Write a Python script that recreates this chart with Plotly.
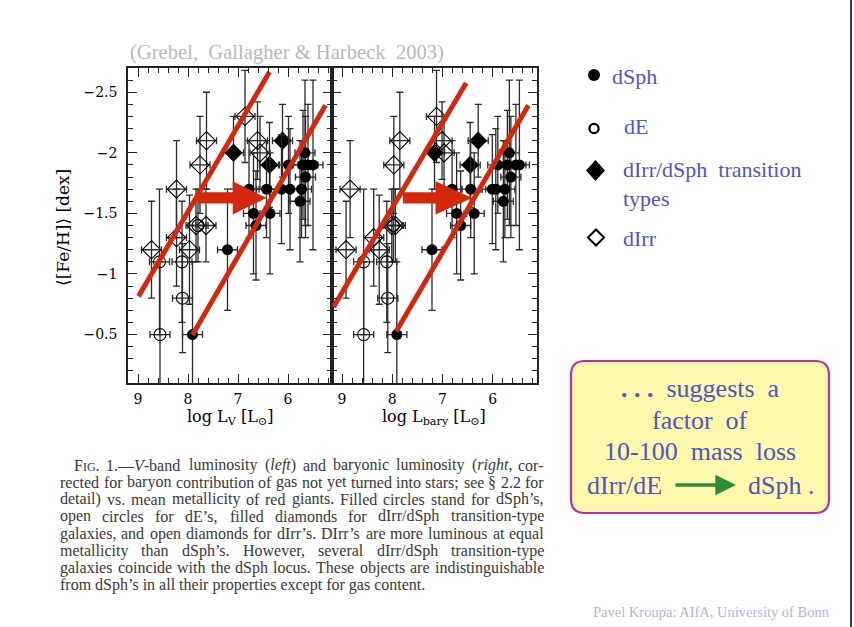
import re
import plotly.graph_objects as go

W, H = 854, 627
def fx(p): return p / W
def fy(p): return 1 - p / H

# ---------------- data ----------------
# dSph (filled circles)
dsph_xL = [7.91, 7.21, 6.69, 6.36, 6.64, 6.78, 6.43, 6.13, 5.96, 5.73, 5.76, 5.99, 5.70, 5.60, 5.50, 5.66, 5.65]
dsph_xR = [7.91, 7.21, 6.72, 6.37, 6.64, 6.81, 6.44, 6.01, 5.94, 5.76, 5.79, 5.90, 5.71, 5.54, 5.47, 5.67, 5.64]
dsph_y  = [-0.5, -1.2, -1.5, -1.5, -1.4, -1.7, -1.7, -1.7, -1.7, -1.7, -1.6, -1.9, -1.9, -1.9, -1.9, -2.0, -1.8]
dsph_ey = [0.6, 0.5, 0.5, 0.5, 0.45, 0.4, 0.4, 0.45, 0.5, 0.4, 0.5, 0.4, 0.45, 0.5, 0.7, 0.6, 0.5]
dsph_ex = [0.2, 0.2, 0.2, 0.2, 0.2, 0.2, 0.2, 0.2, 0.2, 0.2, 0.2, 0.2, 0.2, 0.2, 0.2, 0.2, 0.2]

# dIrr/dSph transition types (filled diamonds)
tr_xL = [7.09, 6.11, 6.37]
tr_xR = [7.16, 6.29, 6.45]
tr_y  = [-2.0, -2.1, -1.9]
tr_ey = [0.3, 0.3, 0.35]
tr_ex = [0.2, 0.2, 0.2]

# dIrr (open diamonds)
dirr_xL = [6.86, 7.63, 6.61, 6.56, 7.76, 8.23, 8.73, 7.97, 8.23, 7.84, 7.64]
dirr_xR = [7.12, 7.85, 7.01, 6.97, 7.97, 8.84, 8.92, 8.26, 8.37, 8.01, 7.94]
dirr_y  = [-2.3, -2.1, -2.1, -2.0, -1.9, -1.7, -1.2, -1.2, -1.3, -1.4, -1.4]
dirr_ey = [0.38, 0.4, 0.32, 0.3, 0.4, 0.4, 0.4, 0.45, 0.4, 0.3, 0.3]
dirr_ex = [0.2, 0.2, 0.2, 0.2, 0.2, 0.2, 0.2, 0.2, 0.2, 0.2, 0.2]

# dE (open circles)
de_xL = [8.57, 8.12, 8.11, 8.56, 7.80]
de_xR = [8.57, 8.11, 8.09, 8.57, 7.98]
de_y  = [-1.1, -1.1, -0.8, -0.5, -1.4]
de_ey = [0.6, 0.5, 0.45, 0.6, 0.3]
de_ex = [0.2, 0.2, 0.2, 0.2, 0.2]

# red lines drawn on the slide (data coordinates)
redL1_x, redL1_y = [8.99, 6.37], [-0.815, -2.667]
redL2_x, redL2_y = [7.91, 5.25], [-0.497, -2.393]
redR1_x, redR1_y = [9.17, 6.53], [-0.728, -2.577]
redR2_x, redR2_y = [7.92, 5.29], [-0.527, -2.393]

# red block arrows: start, head base, tip (x); centre y
arrow_x = [[7.80, 7.106, 6.43], [7.79, 7.14, 6.41]]
arrow_yc = -1.628

x_ticks = [9, 8, 7, 6]
y_ticks = [-2.5, -2, -1.5, -1, -0.5]

RED = "#d4280c"
BLUE = "#4f55c4"
ERRC = "#2a2a2a"

fig = go.Figure()

def add_panel(xa, ya, dsx, trx, dix, dex):
    common = dict(xaxis=xa, yaxis=ya, mode="markers", showlegend=False, hoverinfo="skip")
    def ebars(ex, ey):
        return dict(error_x=dict(type="data", array=ex, color=ERRC, thickness=1.3, width=3.5),
                    error_y=dict(type="data", array=ey, color=ERRC, thickness=1.3, width=3.5))
    fig.add_trace(go.Scatter(x=dix, y=dirr_y, marker=dict(symbol="diamond-open", size=14,
                  color="black", line=dict(width=1.1, color="black")), **ebars(dirr_ex, dirr_ey), **common))
    fig.add_trace(go.Scatter(x=dex, y=de_y, marker=dict(symbol="circle-open", size=12,
                  color="black", line=dict(width=1.1, color="black")), **ebars(de_ex, de_ey), **common))
    fig.add_trace(go.Scatter(x=trx, y=tr_y, marker=dict(symbol="diamond", size=14, color="black"),
                  **ebars(tr_ex, tr_ey), **common))
    fig.add_trace(go.Scatter(x=dsx, y=dsph_y, marker=dict(symbol="circle", size=11, color="black"),
                  **ebars(dsph_ex, dsph_ey), **common))

add_panel("x", "y", dsph_xL, tr_xL, dirr_xL, de_xL)
add_panel("x2", "y2", dsph_xR, tr_xR, dirr_xR, de_xR)

for xa, ya, lx, ly in [("x", "y", redL1_x, redL1_y), ("x", "y", redL2_x, redL2_y),
                       ("x2", "y2", redR1_x, redR1_y), ("x2", "y2", redR2_x, redR2_y)]:
    fig.add_trace(go.Scatter(x=lx, y=ly, xaxis=xa, yaxis=ya, mode="lines",
                             line=dict(color=RED, width=5), showlegend=False, hoverinfo="skip"))

shapes = []
for (x0, xb, xt), (xr, yr) in zip(arrow_x, [("x", "y"), ("x2", "y2")]):
    t, h = 0.046, 0.138
    yc = arrow_yc
    path = (f"M{x0},{yc-t} L{xb},{yc-t} L{xb},{yc-h} L{xt},{yc} L{xb},{yc+h} "
            f"L{xb},{yc+t} L{x0},{yc+t} Z")
    shapes.append(dict(type="path", path=path, xref=xr, yref=yr, fillcolor=RED,
                       line=dict(width=0), layer="above"))

# legend markers (slide decoration)
def circ(cx, cy, r, fill, lw):
    return dict(type="circle", xref="paper", yref="paper", x0=fx(cx - r), x1=fx(cx + r),
                y0=fy(cy + r), y1=fy(cy - r), fillcolor=fill, line=dict(color="black", width=lw))
def diam(cx, cy, hw, hh, fill, lw):
    p = (f"M{fx(cx-hw)},{fy(cy)} L{fx(cx)},{fy(cy-hh)} L{fx(cx+hw)},{fy(cy)} "
         f"L{fx(cx)},{fy(cy+hh)} Z")
    return dict(type="path", xref="paper", yref="paper", path=p, fillcolor=fill,
                line=dict(color="black", width=lw))
shapes += [circ(594, 75, 6, "black", 0), circ(594, 128.5, 4.6, "white", 2.2),
           diam(595.5, 170.5, 9.5, 10.5, "black", 0), diam(596, 237.5, 8, 8, "white", 2)]

# yellow rounded box
bx0, bx1, by0, by1, rr = 571, 829, 361, 513, 14
bp = (f"M{fx(bx0+rr)},{fy(by0)} L{fx(bx1-rr)},{fy(by0)} Q{fx(bx1)},{fy(by0)} {fx(bx1)},{fy(by0+rr)} "
      f"L{fx(bx1)},{fy(by1-rr)} Q{fx(bx1)},{fy(by1)} {fx(bx1-rr)},{fy(by1)} "
      f"L{fx(bx0+rr)},{fy(by1)} Q{fx(bx0)},{fy(by1)} {fx(bx0)},{fy(by1-rr)} "
      f"L{fx(bx0)},{fy(by0+rr)} Q{fx(bx0)},{fy(by0)} {fx(bx0+rr)},{fy(by0)} Z")
shapes.append(dict(type="path", xref="paper", yref="paper", path=bp, fillcolor="#fdf8ab",
                   line=dict(color="#b232a8", width=2.2), layer="below"))
# right slide edge
shapes.append(dict(type="line", xref="paper", yref="paper", x0=fx(851), x1=fx(851), y0=0, y1=1,
                   line=dict(color="black", width=1.5)))

ann = []
def txt(x, y, s, size, color, font="Liberation Serif", xanchor="left", angle=0):
    ann.append(dict(x=fx(x), y=fy(y), xref="paper", yref="paper", text=s, showarrow=False,
                    xanchor=xanchor, yanchor="middle", textangle=angle,
                    font=dict(family=font, size=size, color=color)))

NB = "\u00a0"
txt(128, 53, f"(Grebel,{NB}{NB}Gallagher &amp; Harbeck{NB}{NB}2003)", 20.6, "#b9b9b9")
txt(63, 228, f"⟨[Fe/H]⟩{NB}[dex]", 17, "black", font="DejaVu Serif", xanchor="center", angle=-90)
txt(230, 417, f"log{NB}L<sub>V</sub>{NB}[L<sub>⊙</sub>]", 16, "black", font="DejaVu Serif", xanchor="center")
txt(434, 417, f"log{NB}L<sub>bary</sub>{NB}[L<sub>⊙</sub>]", 16, "black", font="DejaVu Serif", xanchor="center")

# legend text
txt(610, 76, "dSph", 22, BLUE)
txt(622, 127, "dE", 22, BLUE)
txt(621, 169, f"dIrr/dSph{NB}{NB}transition", 22, BLUE)
txt(621, 198, "types", 22, BLUE)
txt(621, 238, "dIrr", 22, BLUE)

# box text
txt(700, 388, f"<b>.{NB}.{NB}.</b>{NB}{NB}suggests{NB}{NB}a", 26, BLUE, xanchor="center")
txt(700, 420, f"factor{NB}{NB}of", 26, BLUE, xanchor="center")
txt(700, 452, f"10-100{NB}{NB}mass{NB}{NB}loss", 26, BLUE, xanchor="center")
txt(664, 485, "dIrr/dE", 26, BLUE, xanchor="right")
txt(746, 485, "dSph .", 26, BLUE)
ann.append(dict(x=fx(736), y=fy(485), xref="paper", yref="paper", ax=-62, ay=0, text="",
                showarrow=True, arrowhead=2, arrowsize=1.15, arrowwidth=3.6, arrowcolor="#2e8b3a"))

# footer
txt(591, 612, "Pavel Kroupa: AIfA, University of Bonn", 14.5, "#b3b3e0")

# caption, justified word by word
TWD = {' ': 250, ',': 250, '-': 333, '.': 250, '/': 278, ':': 278, ';': 278, '(': 333, ')': 333,
       '’': 333, '—': 1000, '§': 500,
       'A': 722, 'B': 667, 'C': 667, 'D': 722, 'E': 611, 'F': 556, 'G': 722, 'H': 722, 'I': 333,
       'J': 389, 'K': 722, 'L': 611, 'M': 889, 'N': 722, 'O': 722, 'P': 556, 'Q': 722, 'R': 667,
       'S': 556, 'T': 611, 'U': 722, 'V': 722, 'W': 944, 'X': 722, 'Y': 722, 'Z': 611,
       'a': 444, 'b': 500, 'c': 444, 'd': 500, 'e': 444, 'f': 333, 'g': 500, 'h': 500, 'i': 278,
       'j': 278, 'k': 500, 'l': 278, 'm': 778, 'n': 500, 'o': 500, 'p': 500, 'q': 500, 'r': 333,
       's': 389, 't': 278, 'u': 500, 'v': 500, 'w': 722, 'x': 500, 'y': 500, 'z': 444}
def wlen(s, size):
    plain = re.sub(r"<[^>]+>", "", s)
    return sum(TWD.get(c, 500) for c in plain) * size / 1000

CAP = 16
CAPC = "#383838"
cap_words = [
    ["F<span style='font-size:12px'>IG</span>.", "1.—<i>V</i>-band", "luminosity", "(<i>left</i>)", "and",
     "baryonic", "luminosity", "(<i>right</i>,", "cor-"],
    "rected for baryon contribution of gas not yet turned into stars; see § 2.2 for".split(" "),
    "detail) vs. mean metallicity of red giants. Filled circles stand for dSph’s,".split(" "),
    "open circles for dE’s, filled diamonds for dIrr/dSph transition-type".split(" "),
    "galaxies, and open diamonds for dIrr’s. DIrr’s are more luminous at equal".split(" "),
    "metallicity than dSph’s. However, several dIrr/dSph transition-type".split(" "),
    "galaxies coincide with the dSph locus. These objects are indistinguishable".split(" "),
]
cap_last = "from dSph’s in all their properties except for gas content."
cap_y0, cap_dy = 465, 17.14
right_edge = 542
for i, words in enumerate(cap_words):
    y = cap_y0 + i * cap_dy
    left = 72 if i == 0 else 58
    widths = [wlen(w, CAP) for w in words]
    if i == 0:
        widths[0] = wlen("Fig.", CAP)
    gap = (right_edge - left - sum(widths)) / (len(words) - 1)
    xpos = left
    for w, wd in zip(words, widths):
        txt(xpos, y, w, CAP, CAPC)
        xpos += wd + gap
txt(58, cap_y0 + len(cap_words) * cap_dy, cap_last, CAP, CAPC)

axis_common = dict(showline=True, linecolor="#222", linewidth=1.5, mirror="allticks",
                   ticks="inside", tickcolor="#222", tickwidth=1.3, showgrid=False, zeroline=False,
                   tickfont=dict(family="DejaVu Serif", size=14, color="black"))
xa = dict(axis_common, range=[9.2, 5.12], tickvals=x_ticks, ticklen=9, ticklabelstandoff=2,
          minor=dict(dtick=0.2, tick0=0, ticks="inside", ticklen=5, tickcolor="#222", tickwidth=1.2))
ya = dict(axis_common, range=[-0.1, -2.7], tickvals=y_ticks, ticklen=9, ticklabelstandoff=6,
          minor=dict(dtick=0.1, tick0=0, ticks="inside", ticklen=5, tickcolor="#222", tickwidth=1.2))

fig.update_layout(
    width=W, height=H, margin=dict(l=0, r=0, t=0, b=0),
    paper_bgcolor="white", plot_bgcolor="white",
    xaxis=dict(xa, domain=[fx(128), fx(332)], anchor="y"),
    xaxis2=dict(xa, domain=[fx(332), fx(537)], anchor="y2"),
    yaxis=dict(ya, domain=[fy(383), fy(68)], anchor="x"),
    yaxis2=dict(ya, domain=[fy(383), fy(68)], anchor="x2", showticklabels=False),
    shapes=shapes, annotations=ann,
)

fig.write_html("out.html")
